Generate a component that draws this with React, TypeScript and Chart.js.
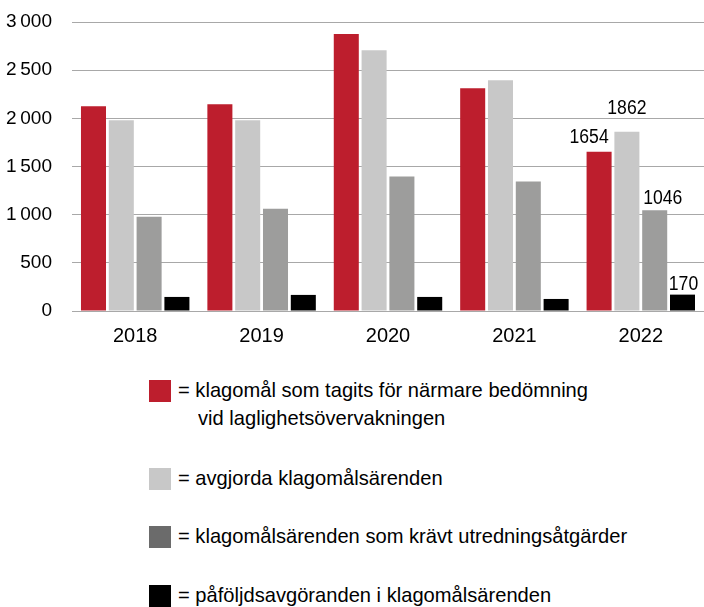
import React, { useEffect, useMemo, useRef } from "react";
import { Chart, registerables } from "chart.js";

Chart.register(...registerables);

const years = ["2018", "2019", "2020", "2021", "2022"];
const handled = [2125, 2146, 2875, 2312, 1654];
const decided = [1979, 1979, 2708, 2396, 1862];
const investigated = [979, 1062, 1396, 1344, 1046];
const sanctions = [146, 167, 146, 125, 170];
const yTicks = [0, 500, 1000, 1500, 2000, 2500, 3000];

const seriesNames = [
  "klagomål som tagits för närmare bedömning vid laglighetsövervakningen",
  "avgjorda klagomålsärenden",
  "klagomålsärenden som krävt utredningsåtgärder",
  "påföljdsavgöranden i klagomålsärenden",
];
const barColors = ["#bd1e2d", "#c8c8c8", "#9d9d9c", "#000000"];
const legendColors = ["#bd1e2d", "#c8c8c8", "#6b6b6b", "#000000"];

const FONT = "'Liberation Sans', Arial, sans-serif";

// label placement tweaks for the 2022 value labels (dx, gap above bar)
const labelOffsets = [
  { dx: -10, gap: 9 },
  { dx: 0, gap: 18 },
  { dx: 8, gap: 6 },
  { dx: 1, gap: 5 },
];

const fmt = (v: number) => {
  const s = String(v);
  return s.length > 3 ? s.slice(0, s.length - 3) + "\u2009" + s.slice(-3) : s;
};

const lastLabels = {
  id: "lastLabels",
  afterDatasetsDraw(chart: any) {
    const ctx = chart.ctx;
    chart.data.datasets.forEach((ds: any, i: number) => {
      const meta = chart.getDatasetMeta(i);
      const idx = ds.data.length - 1;
      const el = meta.data[idx];
      const off = labelOffsets[i];
      ctx.save();
      ctx.font = `20px ${FONT}`;
      ctx.fillStyle = "#000";
      ctx.textAlign = "center";
      ctx.textBaseline = "alphabetic";
      ctx.translate(el.x + off.dx, el.y - off.gap);
      ctx.scale(0.88, 1);
      ctx.fillText(String(ds.data[idx]), 0, 0);
      ctx.restore();
    });
  },
};

export default function App() {
  const ref = useRef<HTMLCanvasElement>(null);

  const legendScale = useMemo(() => {
    const c = document.createElement("canvas").getContext("2d");
    if (!c) return 0.82;
    c.font = `21px ${FONT}`;
    const w = c.measureText("= klagomål som tagits för närmare bedömning").width;
    return w > 0 ? 410 / w : 0.82;
  }, []);

  useEffect(() => {
    if (!ref.current) return;
    const data = [handled, decided, investigated, sanctions];
    const chart = new Chart(ref.current, {
      type: "bar",
      data: {
        labels: years,
        datasets: data.map((d, i) => ({
          label: seriesNames[i],
          data: d,
          backgroundColor: barColors[i],
          borderWidth: 0,
          categoryPercentage: 0.88,
          barPercentage: 0.9,
        })),
      },
      options: {
        responsive: false,
        animation: false,
        layout: { padding: { top: 22, right: 0, left: 0, bottom: 0 } },
        plugins: { legend: { display: false }, tooltip: { enabled: false } },
        scales: {
          x: {
            grid: { display: false },
            border: { display: true, color: "#a8a8a8", width: 1 },
            ticks: { color: "#000", font: { family: FONT, size: 20 }, padding: 5 },
          },
          y: {
            min: 0,
            max: 3000,
            afterFit: (s: any) => {
              s.width = 72;
            },
            afterBuildTicks: (s: any) => {
              s.ticks = yTicks.map((v) => ({ value: v }));
            },
            border: { display: false },
            grid: {
              color: "#a8a8a8",
              lineWidth: 1,
              drawTicks: true,
              tickLength: 20,
              tickColor: "rgba(0,0,0,0)",
            },
            ticks: {
              color: "#000",
              font: { family: FONT, size: 19 },
              padding: 0,
              callback: (v: any) => fmt(Number(v)),
            },
          },
        },
      },
      plugins: [lastLabels],
    });
    return () => chart.destroy();
  }, []);

  const items = [
    { top: 380, lines: ["= klagomål som tagits för närmare bedömning", "vid laglighetsövervakningen"] },
    { top: 468, lines: ["= avgjorda klagomålsärenden"] },
    { top: 526, lines: ["= klagomålsärenden som krävt utredningsåtgärder"] },
    { top: 585, lines: ["= påföljdsavgöranden i klagomålsärenden"] },
  ];

  return (
    <div style={{ position: "absolute", left: 0, top: 0, width: 704, height: 607, background: "#fff", overflow: "hidden" }}>
      <canvas ref={ref} width={704} height={353} style={{ position: "absolute", left: 0, top: 0 }} />
      {items.map((it, i) => (
        <div key={i} style={{ position: "absolute", left: 149, top: it.top }}>
          <div style={{ position: "absolute", left: 0, top: 0, width: 22, height: 22, background: legendColors[i] }} />
          {it.lines.map((ln, j) => (
            <div
              key={j}
              style={{
                position: "absolute",
                left: j === 0 ? 29 : 49,
                top: -1 + j * 28,
                whiteSpace: "nowrap",
                fontFamily: FONT,
                fontSize: 21,
                lineHeight: "21px",
                color: "#000",
                transform: `scaleX(${legendScale})`,
                transformOrigin: "left top",
              }}
            >
              {ln}
            </div>
          ))}
        </div>
      ))}
    </div>
  );
}
